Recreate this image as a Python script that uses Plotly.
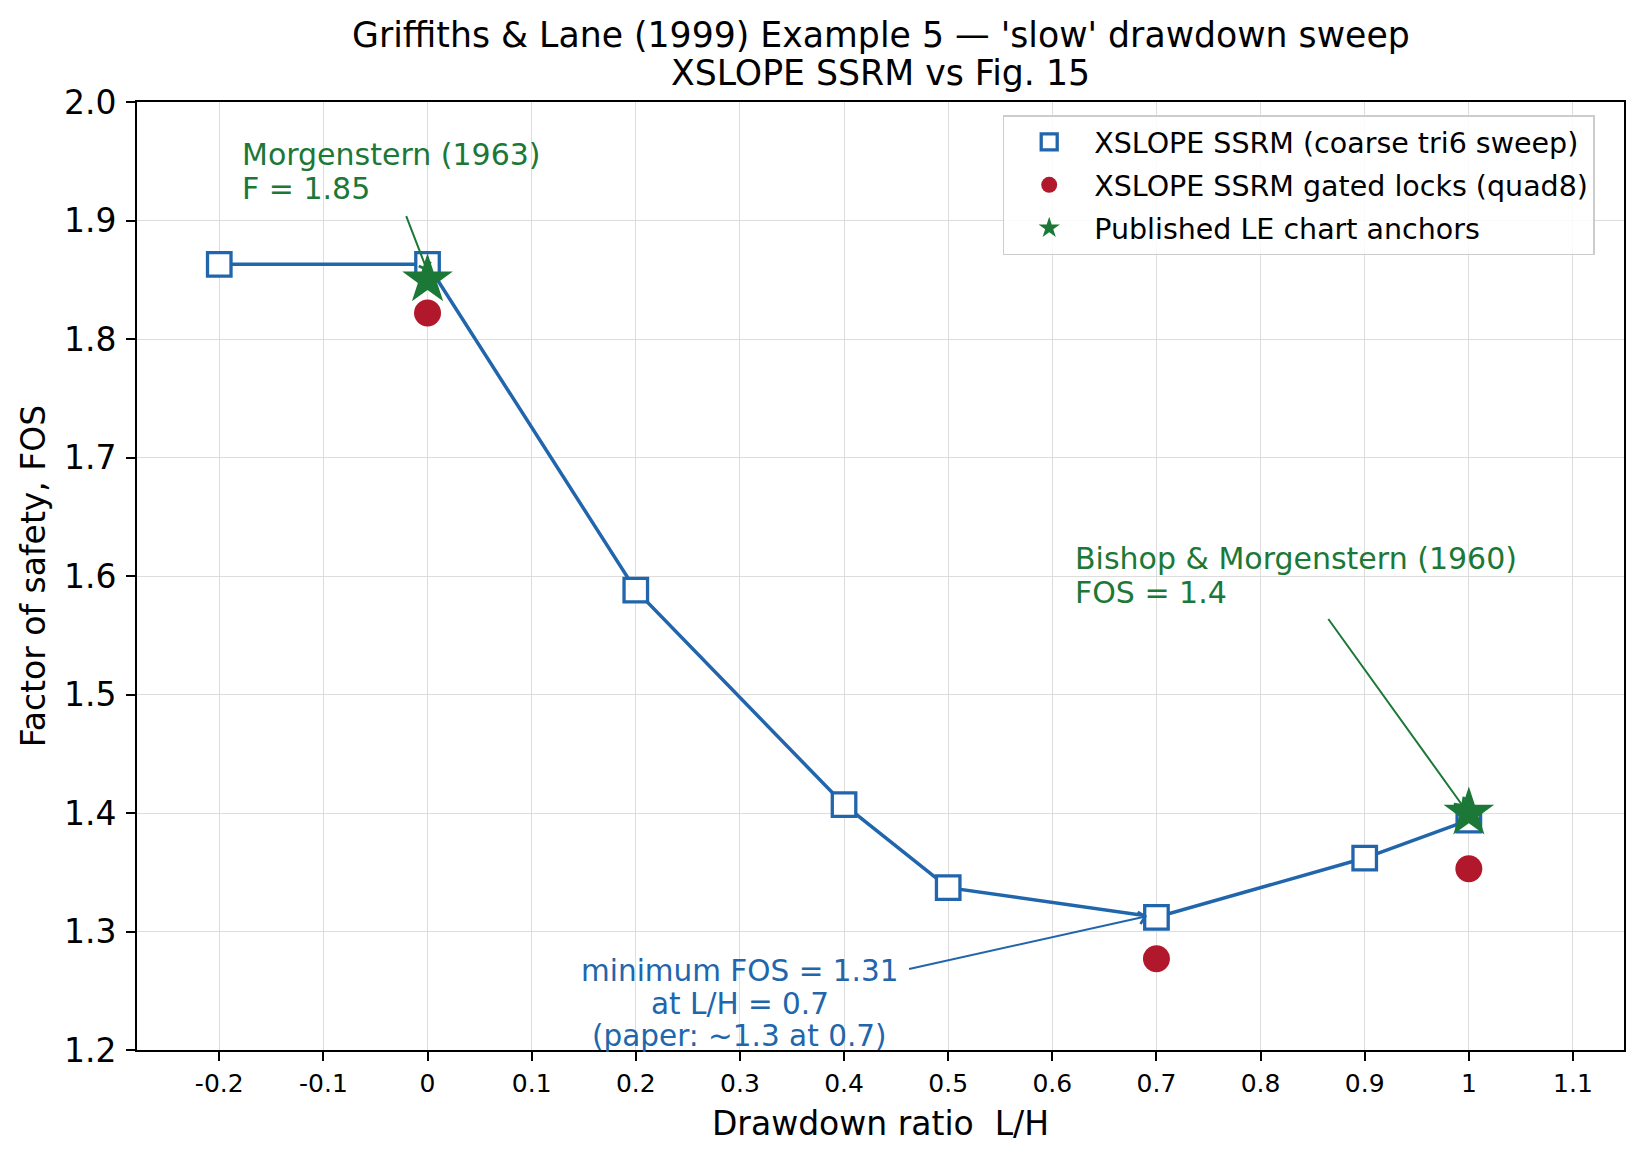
import plotly.graph_objects as go

# ---- data ----
sweep_x = [-0.2, 0.0, 0.2, 0.4, 0.5, 0.7, 0.9, 1.0]
sweep_fos = [1.863, 1.863, 1.588, 1.407, 1.337, 1.312, 1.362, 1.394]
locks_x = [0.0, 0.7, 1.0]
locks_fos = [1.822, 1.277, 1.353]
anchor_x = [0.0, 1.0]
anchor_fos = [1.85, 1.40]

x_ticks = [-0.2, -0.1, 0.0, 0.1, 0.2, 0.3, 0.4, 0.5, 0.6, 0.7, 0.8, 0.9, 1.0, 1.1]
x_tick_labels = ["-0.2", "-0.1", "0", "0.1", "0.2", "0.3", "0.4", "0.5",
                 "0.6", "0.7", "0.8", "0.9", "1", "1.1"]
y_ticks = [1.2, 1.3, 1.4, 1.5, 1.6, 1.7, 1.8, 1.9, 2.0]
y_tick_labels = ["1.2", "1.3", "1.4", "1.5", "1.6", "1.7", "1.8", "1.9", "2.0"]

BLUE = "#2166ac"
RED = "#b2182b"
GREEN = "#1b7837"
FONT = "DejaVu Sans"
ANN = 30

fig = go.Figure()

fig.add_trace(go.Scatter(
    x=sweep_x, y=sweep_fos, mode="lines",
    line=dict(color=BLUE, width=3.5), showlegend=False, hoverinfo="skip"))
fig.add_trace(go.Scatter(
    x=sweep_x, y=sweep_fos, mode="markers",
    name="XSLOPE SSRM (coarse tri6 sweep)", legendgroup="a",
    marker=dict(symbol="square", size=23.5, color="white",
                line=dict(color=BLUE, width=3.3))))
fig.add_trace(go.Scatter(
    x=locks_x, y=locks_fos, mode="markers",
    name="XSLOPE SSRM gated locks (quad8)", legendgroup="b",
    marker=dict(symbol="circle", size=27, color=RED)))
fig.add_trace(go.Scatter(
    x=anchor_x, y=anchor_fos, mode="markers",
    name="Published LE chart anchors", legendgroup="c",
    marker=dict(symbol="star", size=38, color=GREEN)))

annotations = [
    # title lines
    dict(text="Griffiths &amp; Lane (1999) Example 5 \u2014 'slow' drawdown sweep",
         xref="paper", yref="paper", x=0.5, y=1.0707, xanchor="center",
         yanchor="middle", showarrow=False, font=dict(size=34.7, color="black")),
    dict(text="XSLOPE SSRM vs Fig. 15",
         xref="paper", yref="paper", x=0.5, y=1.0306, xanchor="center",
         yanchor="middle", showarrow=False, font=dict(size=34.7, color="black")),
    # Morgenstern
    dict(text="Morgenstern (1963)", x=-0.18, y=1.9557, xref="x", yref="y",
         xanchor="left", yanchor="middle", showarrow=False,
         font=dict(size=ANN, color=GREEN)),
    dict(text="F = 1.85", x=-0.18, y=1.927, xref="x", yref="y",
         xanchor="left", yanchor="middle", showarrow=False,
         font=dict(size=ANN, color=GREEN)),
    dict(text="", x=0.0, y=1.857, ax=-0.021, ay=1.905, xref="x", yref="y",
         axref="x", ayref="y", showarrow=True, arrowhead=4, arrowsize=1.2,
         arrowwidth=2, arrowcolor=GREEN),
    # Bishop & Morgenstern
    dict(text="Bishop &amp; Morgenstern (1960)", x=0.62, y=1.6146, xref="x", yref="y",
         xanchor="left", yanchor="middle", showarrow=False,
         font=dict(size=ANN, color=GREEN)),
    dict(text="FOS = 1.4", x=0.62, y=1.5863, xref="x", yref="y",
         xanchor="left", yanchor="middle", showarrow=False,
         font=dict(size=ANN, color=GREEN)),
    dict(text="", x=0.995, y=1.405, ax=0.864, ay=1.565, xref="x", yref="y",
         axref="x", ayref="y", showarrow=True, arrowhead=4, arrowsize=1.2,
         arrowwidth=2, arrowcolor=GREEN),
    # minimum
    dict(text="minimum FOS = 1.31", x=0.30, y=1.267, xref="x", yref="y",
         xanchor="center", yanchor="middle", showarrow=False,
         font=dict(size=29.5, color=BLUE)),
    dict(text="at L/H = 0.7", x=0.30, y=1.239, xref="x", yref="y",
         xanchor="center", yanchor="middle", showarrow=False,
         font=dict(size=29.5, color=BLUE)),
    dict(text="(paper: ~1.3 at 0.7)", x=0.30, y=1.212, xref="x", yref="y",
         xanchor="center", yanchor="middle", showarrow=False,
         font=dict(size=29.5, color=BLUE)),
    dict(text="", x=0.691, y=1.313, ax=0.461, ay=1.268, xref="x", yref="y",
         axref="x", ayref="y", showarrow=True, arrowhead=4, arrowsize=1.2,
         arrowwidth=2, arrowcolor=BLUE),
]

fig.update_layout(
    width=1645, height=1161,
    margin=dict(l=137, r=21, t=102, b=111),
    paper_bgcolor="white", plot_bgcolor="white",
    font=dict(family=FONT, color="black", size=28),
    showlegend=True,
    legend=dict(x=0.9803, xanchor="right", y=0.986, yanchor="top",
                bgcolor="rgba(255,255,255,0.85)", bordercolor="#cccccc",
                borderwidth=1.5, font=dict(size=28.5), itemwidth=80,
                traceorder="grouped", tracegroupgap=3),
    annotations=annotations,
)

fig.update_xaxes(
    range=[-0.279, 1.149], tickmode="array", tickvals=x_ticks,
    ticktext=x_tick_labels, tickfont=dict(size=25),
    showgrid=True, gridcolor="#dddddd", gridwidth=1.3,
    showline=True, linecolor="black", linewidth=2, mirror=True,
    ticks="outside", ticklen=9, tickwidth=2, tickcolor="black",
    ticklabelstandoff=1, zeroline=False,
    title=dict(text="Drawdown ratio  L/H", font=dict(size=33), standoff=15),
)
fig.update_yaxes(
    range=[1.2, 2.0], tickmode="array", tickvals=y_ticks,
    ticktext=y_tick_labels, tickfont=dict(size=33),
    showgrid=True, gridcolor="#dddddd", gridwidth=1.3,
    showline=True, linecolor="black", linewidth=2, mirror=True,
    ticks="outside", ticklen=9, tickwidth=2, tickcolor="black",
    ticklabelstandoff=3, zeroline=False,
    title=dict(text="Factor of safety, FOS", font=dict(size=33), standoff=8),
)

fig.write_html("out.html")
